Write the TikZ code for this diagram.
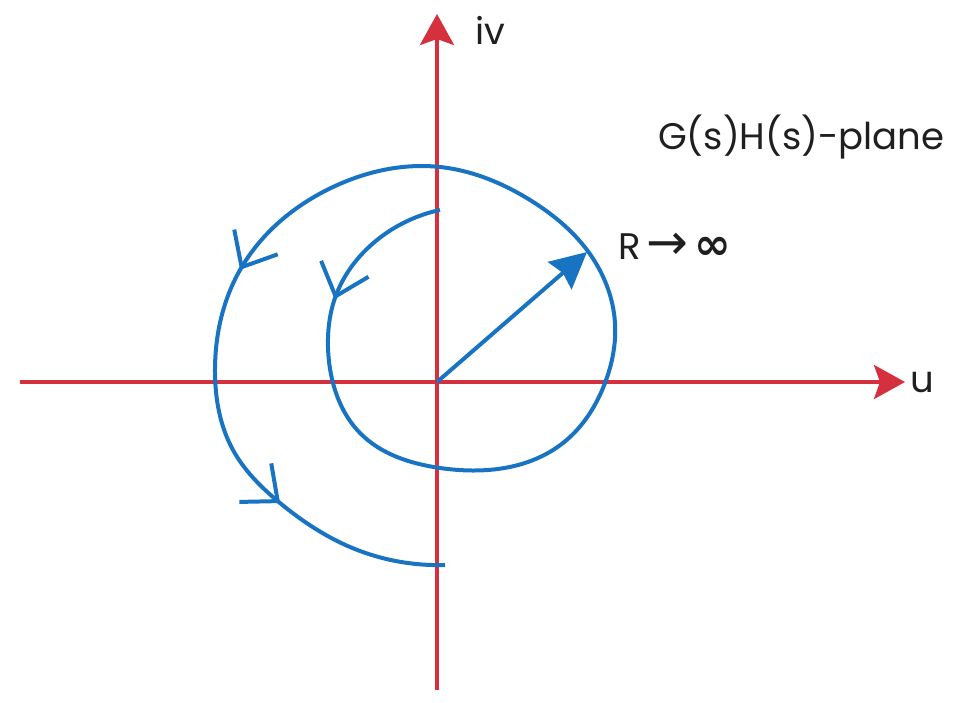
\documentclass[tikz,border=0pt]{standalone}
\usepackage{fontspec}
\setmainfont{Poppins}
\newfontfamily\symfont{DejaVu Sans}
\usetikzlibrary{arrows.meta,decorations.markings,hobby}
\definecolor{axisred}{RGB}{212,48,62}
\definecolor{curveblue}{RGB}{24,116,194}
\tikzset{barb/.tip={Straight Barb[length=29pt,width=50pt]}}

\begin{document}
\begin{tikzpicture}[x=1pt,y=1pt,
  axis/.style={draw=axisred,line width=4pt,-{Stealth[length=31pt,width=34pt,inset=6pt]}},
  curve/.style={draw=curveblue,line width=4pt},
  radius/.style={draw=curveblue,line width=4pt,-{Stealth[length=36pt,width=36pt,inset=4pt]}},
  lbl/.style={font=\fontsize{37}{42}\selectfont,text=black!88,inner sep=0pt}]
\useasboundingbox (-437,-321) rectangle (526,382);
\coordinate (O) at (0,0);
\coordinate (uleft) at (-417,0);
\coordinate (uright) at (468,0);
\coordinate (vdown) at (0,-308);
\coordinate (vup) at (0,368);
\coordinate (Rtip) at (150,130);
% axes
\draw[axis] (uleft) -- (uright);
\draw[axis] (vdown) -- (vup);
% the contour, spiralling counterclockwise
\draw[curve,use Hobby shortcut,postaction={decorate},decoration={markings,
    mark=at position 0.092 with {\arrow{barb}},
    mark=at position 0.72 with {\arrow{barb}},
    mark=at position 0.885 with {\arrow{barb}}}]
  (3,172) .. (-60,142) .. (-102,84) .. (-109,35) .. (-104,-1) .. (-77,-51)
  .. (3,-86) .. (126,-61) .. (168,-1) .. (178,59) .. (150,132) .. (93,182)
  .. (3,215) .. (-104,195) .. (-197,112) .. (-222,10) .. (-204,-68)
  .. (-157,-121) .. (-87,-165) .. (8,-183);
\draw[radius] (O) -- (Rtip);
% labels
\node[lbl,anchor=base west] (vlabel) at (38,337) {iv};
\node[lbl,anchor=base west] (ulabel) at (473,-11) {u};
\node[lbl,anchor=base west] (planelabel) at (221,232) {G(s)H(s)-plane};
\node[lbl,anchor=base west] (rlabel) at (181,122)
  {R\,{\symfont\fontsize{50}{50}\selectfont→}\,{\symfont\bfseries\fontsize{44}{44}\selectfont ∞}};
\end{tikzpicture}
\end{document}
